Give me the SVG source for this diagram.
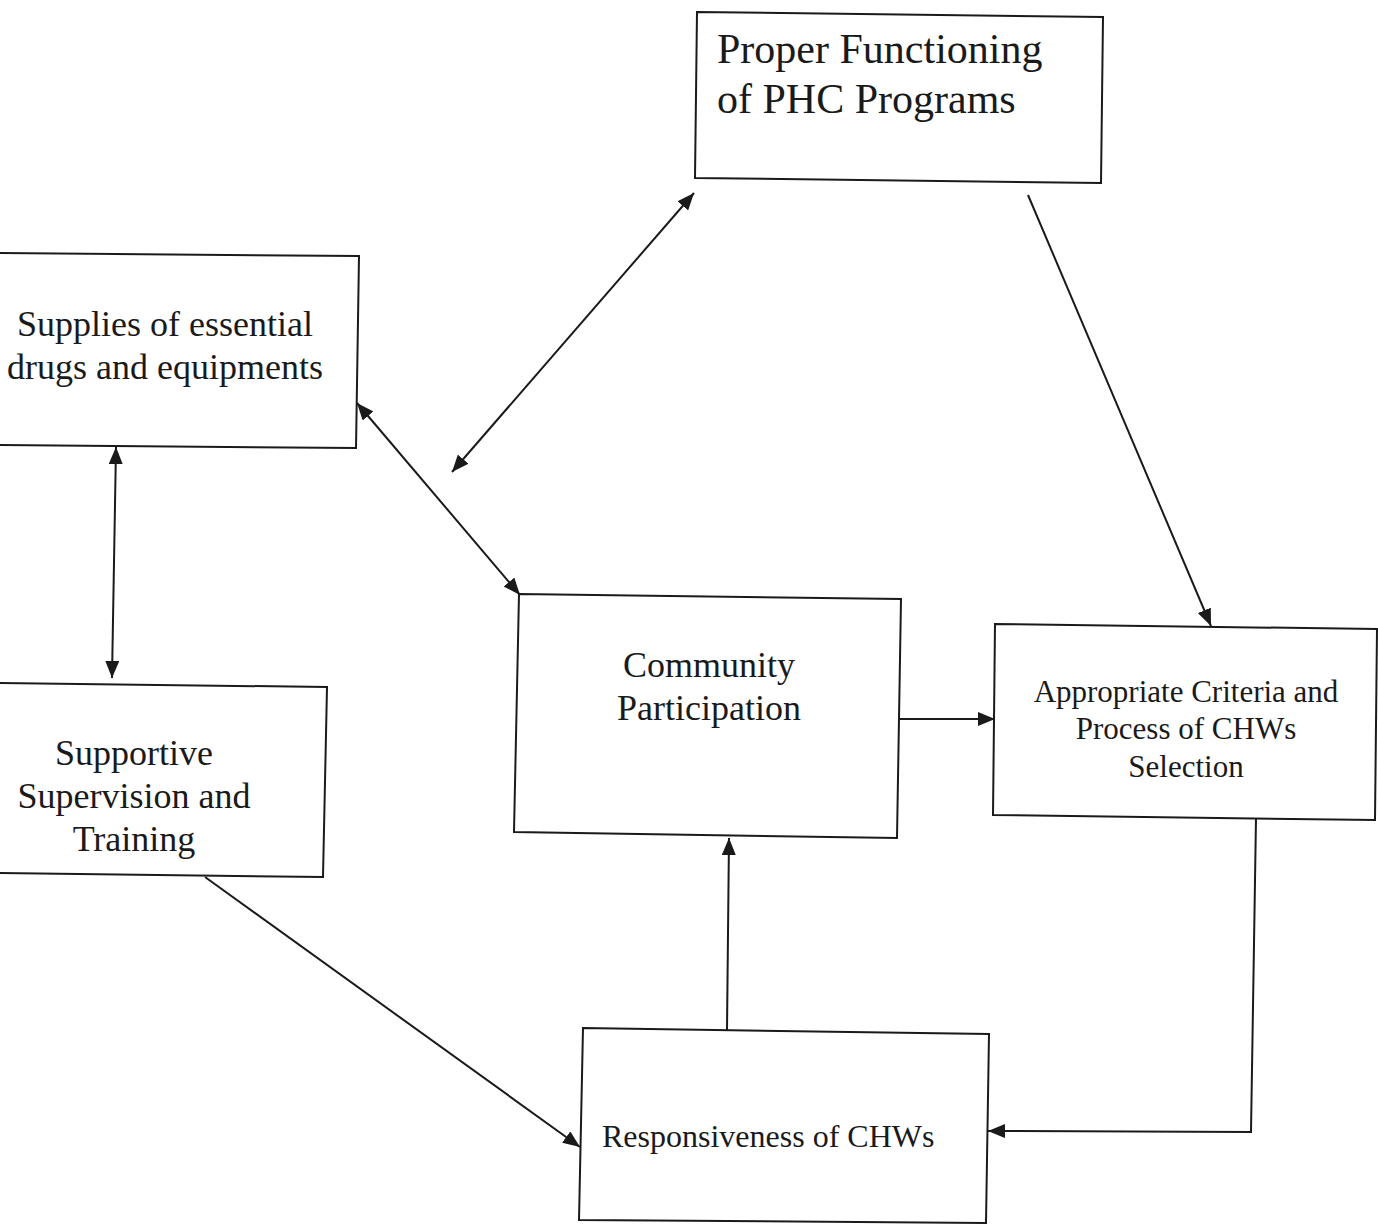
<svg xmlns="http://www.w3.org/2000/svg" width="1378" height="1226" viewBox="0 0 1378 1226">
<defs>
<style>
.box{fill:#ffffff;stroke:#1a1a1a;stroke-width:2}
.t{font-family:"Liberation Serif","Times New Roman",serif;fill:#1a1a1a}
.c{fill:none;stroke:#1a1a1a;stroke-width:2}
</style>
<marker id="ah" markerUnits="userSpaceOnUse" markerWidth="18" markerHeight="14" refX="17" refY="7" orient="auto-start-reverse">
<path d="M0,0 L17,7 L0,14 z" fill="#1a1a1a"/>
</marker>
</defs>
<rect width="1378" height="1226" fill="#ffffff"/>
<g id="connectors">
<line class="c" x1="452" y1="472" x2="694" y2="193" marker-start="url(#ah)" marker-end="url(#ah)"/>
<line class="c" x1="357" y1="403" x2="520" y2="595" marker-start="url(#ah)" marker-end="url(#ah)"/>
<line class="c" x1="116" y1="447" x2="112" y2="678" marker-start="url(#ah)" marker-end="url(#ah)"/>
<line class="c" x1="1028" y1="195" x2="1211" y2="626" marker-end="url(#ah)"/>
<line class="c" x1="900" y1="719" x2="995" y2="719" marker-end="url(#ah)"/>
<line class="c" x1="727" y1="1030" x2="729" y2="838" marker-end="url(#ah)"/>
<line class="c" x1="205" y1="877" x2="580" y2="1147" marker-end="url(#ah)"/>
<polyline class="c" points="1256,818 1251,1132 988,1131" marker-end="url(#ah)"/>
</g>
<g id="node-phc">
<polygon class="box" points="697,12 1103,17 1101,183 695,178"/>
<text class="t" font-size="42" x="717" y="63">Proper Functioning</text>
<text class="t" font-size="42" x="717" y="113">of PHC Programs</text>
</g>
<g id="node-supplies">
<polygon class="box" points="-5,253 359,256 356,448 -5,445"/>
<text class="t" font-size="36" x="165" y="336" text-anchor="middle">Supplies of essential</text>
<text class="t" font-size="36" x="165" y="379" text-anchor="middle">drugs and equipments</text>
</g>
<g id="node-community">
<polygon class="box" points="519,594 901,599 897,838 514,832"/>
<text class="t" font-size="36" x="709" y="677" text-anchor="middle">Community</text>
<text class="t" font-size="36" x="709" y="720" text-anchor="middle">Participation</text>
</g>
<g id="node-criteria">
<polygon class="box" points="995,624 1377,629 1375,820 993,815"/>
<text class="t" font-size="31" x="1186" y="702" text-anchor="middle">Appropriate Criteria and</text>
<text class="t" font-size="31" x="1186" y="739" text-anchor="middle">Process of CHWs</text>
<text class="t" font-size="31" x="1186" y="777" text-anchor="middle">Selection</text>
</g>
<g id="node-supportive">
<polygon class="box" points="-5,683 327,687 323,877 -5,873"/>
<text class="t" font-size="36" x="134" y="765" text-anchor="middle">Supportive</text>
<text class="t" font-size="36" x="134" y="808" text-anchor="middle">Supervision and</text>
<text class="t" font-size="36" x="134" y="851" text-anchor="middle">Training</text>
</g>
<g id="node-responsiveness">
<polygon class="box" points="583,1028 989,1034 986,1223 579,1220"/>
<text class="t" font-size="32" x="602" y="1147">Responsiveness of CHWs</text>
</g>
</svg>
